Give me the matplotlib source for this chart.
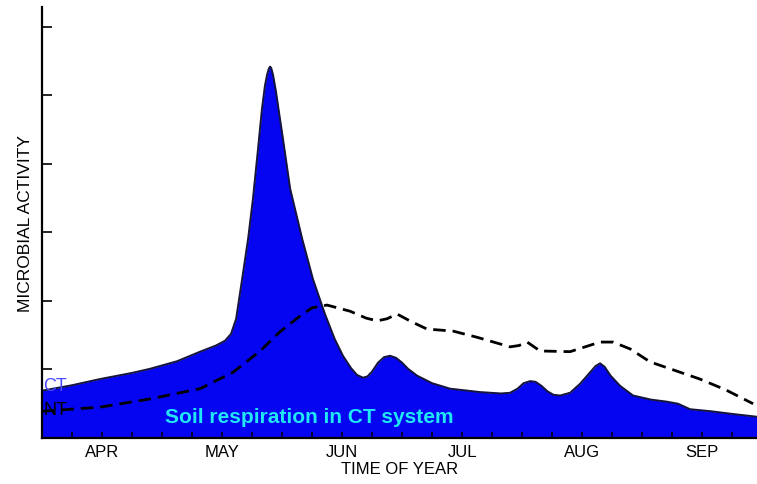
import matplotlib.pyplot as plt
from matplotlib.ticker import FixedLocator, NullFormatter

# time axis in weeks from the start of the plot, activity in arbitrary units
ct_week = [0.0, 1.0, 1.93, 3.0, 3.6, 4.5, 5.27, 5.8, 6.1, 6.3, 6.47, 6.67, 6.87, 7.03, 7.2,
           7.33, 7.43, 7.5, 7.56, 7.6, 7.64, 7.7, 7.8, 7.9, 8.03, 8.27, 8.67, 9.03, 9.43,
           9.75, 10.03, 10.3, 10.5, 10.7, 10.85, 11.0, 11.2, 11.4, 11.6, 11.8, 12.0, 12.2,
           12.5, 13.0, 13.6, 14.6, 15.3, 15.6, 15.85, 16.05, 16.27, 16.45, 16.65, 16.85,
           17.05, 17.27, 17.6, 17.93, 18.25, 18.45, 18.6, 18.75, 18.95, 19.27, 19.7, 20.3,
           20.83, 21.2, 21.6, 22.3, 23.03, 23.83]
ct_activity = [0.69, 0.77, 0.86, 0.95, 1.01, 1.12, 1.26, 1.35, 1.42, 1.52, 1.74, 2.32, 2.91,
               3.49, 4.22, 4.80, 5.14, 5.30, 5.39, 5.42, 5.40, 5.30, 5.05, 4.75, 4.37, 3.64,
               2.91, 2.32, 1.81, 1.45, 1.20, 1.02, 0.92, 0.88, 0.90, 0.97, 1.10, 1.18, 1.20,
               1.17, 1.10, 1.01, 0.91, 0.80, 0.72, 0.67, 0.65, 0.66, 0.72, 0.80, 0.83, 0.82,
               0.76, 0.68, 0.63, 0.62, 0.66, 0.79, 0.95, 1.05, 1.09, 1.04, 0.91, 0.76, 0.62,
               0.56, 0.53, 0.50, 0.42, 0.39, 0.35, 0.31]

nt_week = [0.0, 1.93, 3.6, 5.27, 6.37, 7.27, 7.93, 8.6, 9.0, 9.5, 10.27, 10.8, 11.17, 11.5,
           11.83, 12.3, 12.83, 13.7, 14.5, 15.6, 15.9, 16.17, 16.6, 17.6, 18.6, 19.03,
           19.6, 20.27, 21.0, 21.93, 22.8, 23.7]
nt_activity = [0.39, 0.45, 0.57, 0.72, 0.96, 1.27, 1.55, 1.78, 1.90, 1.94, 1.85, 1.75, 1.71,
               1.74, 1.81, 1.70, 1.59, 1.56, 1.47, 1.33, 1.35, 1.40, 1.27, 1.26, 1.40, 1.40,
               1.30, 1.11, 1.00, 0.86, 0.70, 0.50]

month_weeks = [2, 6, 10, 14, 18, 22]
month_labels = ['APR', 'MAY', 'JUN', 'JUL', 'AUG', 'SEP']

plt.rcParams['font.family'] = ['Liberation Sans', 'DejaVu Sans']

fig = plt.figure(figsize=(7.57, 4.85), dpi=100)
ax = fig.add_axes([42 / 757, 1 - 439 / 485, 1 - 42 / 757, (439 - 8) / 485])

ax.fill_between(ct_week, 0, ct_activity, color='#0505f2', zorder=1, lw=0)
ax.plot(ct_week, ct_activity, color='#14143c', lw=1.4, zorder=2)
ax.plot(nt_week, nt_activity, color='black', lw=2, ls=(0, (4.5, 2.5)), zorder=3)

ax.set_xlim(0, 23.83)
ax.set_ylim(0, 6.29)

for s in ['top', 'right']:
    ax.spines[s].set_visible(False)
for s in ['left', 'bottom']:
    ax.spines[s].set_linewidth(1.6)
    ax.spines[s].set_zorder(4)

ax.set_yticks([1, 2, 3, 4, 5, 6])
ax.set_yticklabels([])
ax.tick_params(axis='y', direction='in', length=7, width=1.2)

ax.set_xticks(month_weeks)
ax.set_xticklabels(month_labels, fontsize=12)
ax.xaxis.set_minor_locator(FixedLocator(list(range(1, 24))))
ax.xaxis.set_minor_formatter(NullFormatter())
ax.tick_params(axis='x', which='both', direction='in', length=4, width=1.1, pad=4)

ax.set_xlabel('TIME OF YEAR', fontsize=12, labelpad=2)
ax.set_ylabel('MICROBIAL ACTIVITY', fontsize=12.5, labelpad=3)

ax.text(0.05, 0.77, 'CT', color='#4a4aff', fontsize=13, va='center', ha='left', zorder=5)
ax.text(0.05, 0.42, 'NT', color='black', fontsize=13, va='center', ha='left', zorder=5)
ax.text(4.1, 0.31, 'Soil respiration in CT system', color='#20e6f6', fontsize=15,
        fontweight='bold', va='center', ha='left', zorder=5)

fig.savefig('out.png', dpi=100)
